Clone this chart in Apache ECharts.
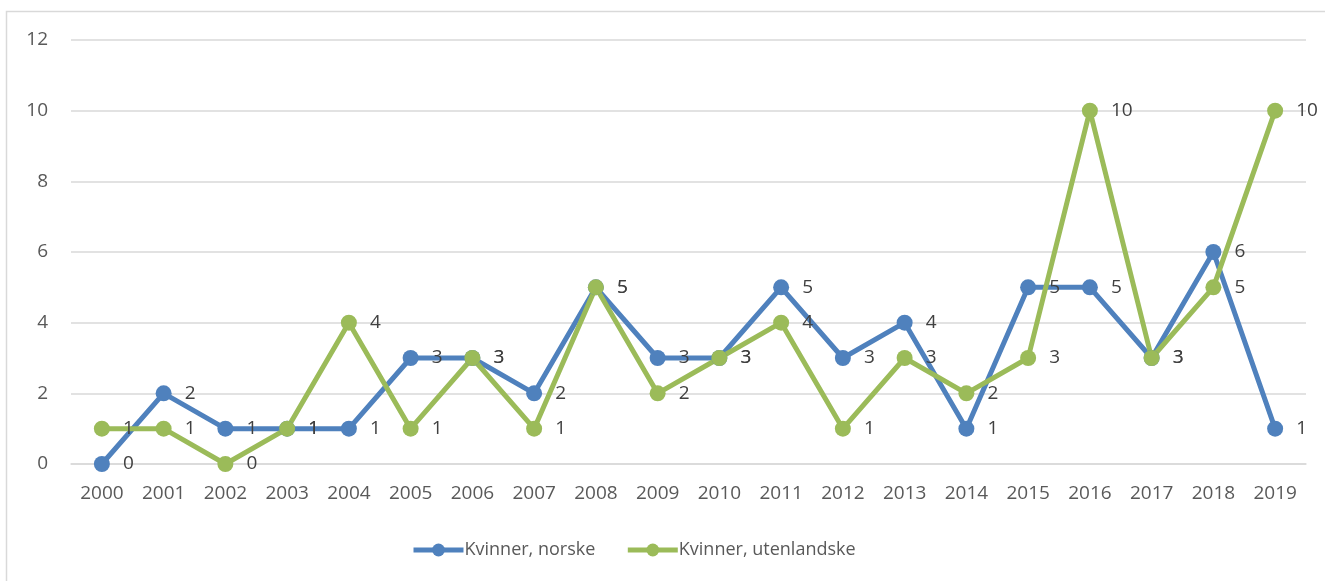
<!DOCTYPE html>
<html>
<head>
<meta charset="utf-8">
<script src="https://cdn.jsdelivr.net/npm/echarts@6/dist/echarts.min.js"></script>
<style>
  html, body { margin: 0; padding: 0; background: #fff; }
  #chart { width: 1325px; height: 581px; }
</style>
</head>
<body>
<div id="chart"></div>
<script>
// år på x-aksen
var years = ['2000','2001','2002','2003','2004','2005','2006','2007','2008','2009',
             '2010','2011','2012','2013','2014','2015','2016','2017','2018','2019'];
// antall per år
var norske      = [0, 2, 1, 1, 1, 3, 3, 2, 5, 3, 3, 5, 3, 4, 1, 5, 5, 3, 6, 1];
var utenlandske = [1, 1, 0, 1, 4, 1, 3, 1, 5, 2, 3, 4, 1, 3, 2, 3, 10, 3, 5, 10];
var yTicks = [0, 2, 4, 6, 8, 10, 12];

var textColor = '#595959';
var font = '"Open Sans", "Liberation Sans", sans-serif';

function lineSeries(name, data, color) {
    return {
        name: name,
        type: 'line',
        data: data,
        symbol: 'circle',
        symbolSize: 16,
        lineStyle: { color: color, width: 5 },
        itemStyle: { color: color },
        label: {
            show: true,
            position: 'right',
            distance: 13,
            color: '#404040',
            fontSize: 19,
            fontFamily: font
        },
        animation: false
    };
}

var chart = echarts.init(document.getElementById('chart'));
chart.setOption({
    backgroundColor: '#fff',
    graphic: [{
        type: 'rect',
        shape: { x: 6.5, y: 11.5, width: 1330, height: 580 },
        style: { fill: 'none', stroke: '#d9d9d9', lineWidth: 1.5 },
        silent: true
    }],
    grid: { left: 71, right: 19, top: 40, bottom: 117, containLabel: false },
    legend: {
        bottom: 17,
        left: 406,
        itemWidth: 50,
        itemHeight: 16,
        itemGap: 30,
        lineStyle: { width: 5 },
        textStyle: { color: textColor, fontSize: 18, fontFamily: font, padding: [0, 0, 0, -4] },
        data: ['Kvinner, norske', 'Kvinner, utenlandske']
    },
    xAxis: {
        type: 'category',
        data: years,
        boundaryGap: true,
        axisLine: { show: true, lineStyle: { color: '#d9d9d9', width: 1.5 } },
        axisTick: { show: false },
        axisLabel: { color: textColor, fontSize: 19, fontFamily: font, margin: 20 }
    },
    yAxis: {
        type: 'value',
        min: yTicks[0],
        max: yTicks[yTicks.length - 1],
        interval: 2,
        axisLine: { show: false },
        axisTick: { show: false },
        splitLine: { lineStyle: { color: '#d9d9d9', width: 1.5 } },
        axisLabel: { color: textColor, fontSize: 19, fontFamily: font, margin: 23 }
    },
    series: [
        lineSeries('Kvinner, norske', norske, '#4F81BD'),
        lineSeries('Kvinner, utenlandske', utenlandske, '#9BBB59')
    ]
});
</script>
</body>
</html>
